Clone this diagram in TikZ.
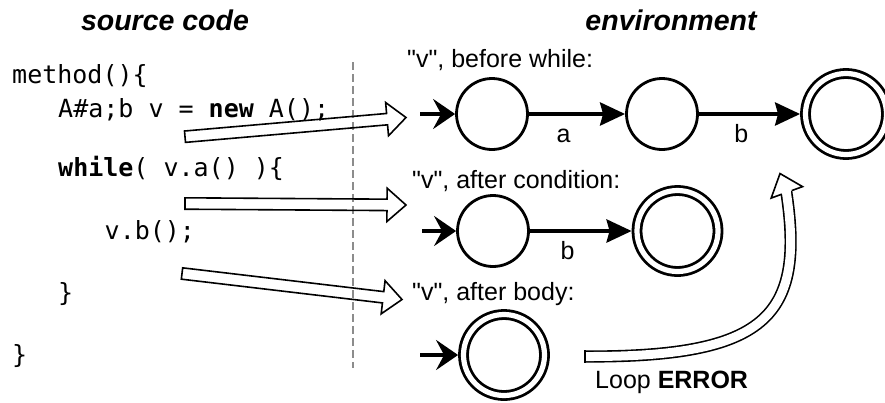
\documentclass[tikz,border=0pt]{standalone}
\usepackage{fontspec}
\setmainfont{Liberation Sans}[Ligatures=TeXOff]
\setmonofont{DejaVu Sans Mono}
\usetikzlibrary{arrows.meta,calc}
\tikzset{
  state/.style={circle, draw, line width=2.8pt, minimum size=71pt, inner sep=0pt},
  accepting/.style={state, double, double distance=5.2pt, minimum size=81pt, outer sep=5.4pt},
  code/.style={font=\ttfamily\fontsize{25}{30}\selectfont, anchor=base west, inner sep=0pt},
  caption/.style={font=\fontsize{25}{30}\selectfont, anchor=base west, inner sep=0pt},
  title/.style={font=\bfseries\itshape\fontsize{28.5}{34}\selectfont, anchor=base, inner sep=0pt},
  sym/.style={font=\fontsize{25}{30}\selectfont, anchor=base, yshift=-28pt, inner sep=0pt},
  init/.style={line width=4pt, -{Stealth[length=22pt,width=30pt,inset=8pt]}},
  trans/.style={line width=4pt, -{Stealth[length=25pt,width=23pt,inset=3pt]}},
  divider/.style={black!45, line width=1.5pt, dash pattern=on 8pt off 4pt},
  hollow/.style={line width=1.6pt, double, double distance=9pt},
  fat/.style={line width=1.6pt, line join=miter, to path={
    let \p1=($(\tikztotarget)-(\tikztostart)$),
        \n1={atan2(\y1,\x1)}, \n2={veclen(\x1,\y1)-19pt} in
    ($(\tikztostart)+(\n1+90:5.7pt)$)
    -- ($(\tikztostart)+(\n1:\n2)+(\n1+90:5.7pt)$)
    -- ($(\tikztostart)+(\n1:\n2)+(\n1+90:16.7pt)$)
    -- (\tikztotarget)
    -- ($(\tikztostart)+(\n1:\n2)+(\n1-90:16.7pt)$)
    -- ($(\tikztostart)+(\n1:\n2)+(\n1-90:5.7pt)$)
    -- ($(\tikztostart)+(\n1-90:5.7pt)$) -- cycle}}
}
\begin{document}
\begin{tikzpicture}[x=1pt, y=-1pt]
  \useasboundingbox (0,0) rectangle (885,402);

  \node[title] (src) at (165,30) {source code};
  \node[title] (env) at (671,30) {environment};

  \node[code] (method) at (12,83) {method()\{};
  \node[code] (decl) at (58,117) {A\#a;b v = \textbf{new} A();};
  \node[code] (cond) at (58,176) {\textbf{while}( v.a() )\{};
  \node[code] (body) at (104.5,239) {v.b();};
  \node[code] (endloop) at (58,301) {\}};
  \node[code] (endmethod) at (12,363) {\}};

  \coordinate (divtop) at (353,62);
  \coordinate (divbot) at (353,368);
  \draw[divider] (divtop) -- (divbot);

  \node[caption] (before) at (407,67) {"v", before while:};
  \node[caption] (after) at (412,188) {"v", after condition:};
  \node[caption] (afterbody) at (412,300) {"v", after body:};

  \node[state] (s1) at (492,114) {};
  \node[state] (s2) at (662,114) {};
  \node[accepting] (s3) at (846,114) {};
  \node[state] (s4) at (493,231) {};
  \node[accepting] (s5) at (677.5,231) {};
  \node[accepting] (s6) at (504,355) {};

  \coordinate (i1) at (420,114);
  \coordinate (i2) at (422,231);
  \coordinate (i3) at (420,355);
  \draw[init] (i1) -- (s1);
  \draw[init] (i2) -- (s4);
  \draw[init] (i3) -- (s6);
  \draw[trans] (s1) -- node[sym, pos=0.36] {a} (s2);
  \draw[trans] (s2) -- node[sym, pos=0.42] {b} (s3);
  \draw[trans] (s4) -- node[sym, pos=0.37] {b} (s5);

  \coordinate (f1) at (185,136.7);
  \coordinate (t1) at (406,117.5);
  \coordinate (f2) at (185,203.5);
  \coordinate (t2) at (406,205);
  \coordinate (f3) at (182,273.5);
  \coordinate (t3) at (402,299.5);
  \draw[fat] (f1) to (t1);
  \draw[fat] (f2) to (t2);
  \draw[fat] (f3) to (t3);

  \coordinate (loopfrom) at (585,356.5);
  \coordinate (loopto) at (786,190);
  \draw[hollow] (loopfrom) .. controls (765,357) and (806,318) .. (loopto);
  \draw[line width=1.6pt] ([yshift=6.1pt]loopfrom) -- ([yshift=-6.1pt]loopfrom);
  \begin{scope}[shift={(loopto)}, rotate=110]
    \filldraw[fill=white, line width=1.6pt, line join=miter]
      (-2.5,5.3) -- (-2.5,16.7) -- (17.5,0) -- (-2.5,-16.7) -- (-2.5,-5.3);
  \end{scope}
  \node[caption] (err) at (595,388) {Loop \textbf{ERROR}};
\end{tikzpicture}
\end{document}
